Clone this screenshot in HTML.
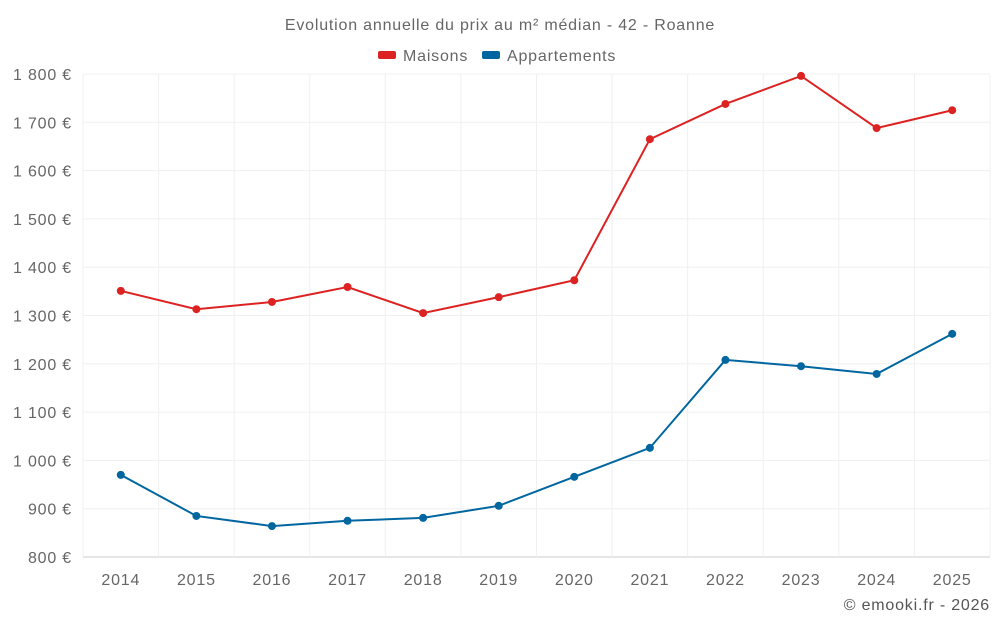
<!DOCTYPE html>
<html><head><meta charset="utf-8"><style>
body{margin:0;background:#fff;font-family:"Liberation Sans",sans-serif}
svg text{font-family:"Liberation Sans",sans-serif;letter-spacing:0.8px}
</style></head><body>
<svg id="chart" width="1000" height="625">
<text x="500" y="30" text-anchor="middle" font-size="16" fill="#666">Evolution annuelle du prix au m² médian - 42 - Roanne</text>
<g>
<g><rect x="378" y="51" width="18" height="8" rx="2" fill="#dd2222"/><text x="403" y="61" font-size="16" fill="#666">Maisons</text></g>
<g><rect x="482" y="51" width="18" height="8" rx="2" fill="#0066a0"/><text x="507" y="61" font-size="16" fill="#666">Appartements</text></g>
</g>
<g id="grid"></g><g id="axes"></g><g id="series"></g>
<text x="990" y="610" text-anchor="end" font-size="16" fill="#555">© emooki.fr - 2026</text>
</svg>
<script>
const years=["2014","2015","2016","2017","2018","2019","2020","2021","2022","2023","2024","2025"];
const maisons=[1351,1313,1328,1359,1305,1338,1373,1665,1738,1796,1688,1725];
const appartements=[970,885,864,875,881,906,966,1026,1208,1195,1179,1262];
const yTicks=[800,900,1000,1100,1200,1300,1400,1500,1600,1700,1800];
const L=83,R=990,T=74,B=557,yMin=800,yMax=1800;
const bw=(R-L)/years.length;
const x=i=>L+bw*(i+0.5);
const y=v=>B-(v-yMin)/(yMax-yMin)*(B-T);
const NS="http://www.w3.org/2000/svg";
function mk(tag,attrs,parent){const e=document.createElementNS(NS,tag);for(const k in attrs)e.setAttribute(k,attrs[k]);document.getElementById(parent).appendChild(e);return e;}
yTicks.forEach(t=>{
 const g=mk('line',{x1:L,x2:R,y1:y(t),y2:y(t),stroke:t===yMin?'#ccc':'#f0f0f0'},'grid');
 
 
 const tx=mk('text',{x:72,y:y(t)+6,'text-anchor':'end','font-size':16,fill:'#666'},'axes');
 tx.textContent=t.toLocaleString('fr-FR').replace(/\s/g,' ')+' €';
 
 
});
for(let i=0;i<=years.length;i++){
 const g=mk('line',{x1:L+bw*i,x2:L+bw*i,y1:T,y2:B,stroke:'#f0f0f0'},'grid');
 
 
}
years.forEach((yr,i)=>{
 const tx=mk('text',{x:x(i),y:585,'text-anchor':'middle','font-size':16,fill:'#666'},'axes');
 tx.textContent=yr;
 
 
});
[[maisons,'#dd2222','maisons'],[appartements,'#0066a0','appartements']].forEach(([d,c,n])=>{
 const p=mk('polyline',{points:d.map((v,i)=>x(i)+','+y(v)).join(' '),fill:'none',stroke:c,'stroke-width':2},'series');
 
 
 d.forEach((v,i)=>{
  const pt=mk('circle',{cx:x(i),cy:y(v),r:4,fill:c},'series');
  
  
 });
});
</script>
</body></html>
